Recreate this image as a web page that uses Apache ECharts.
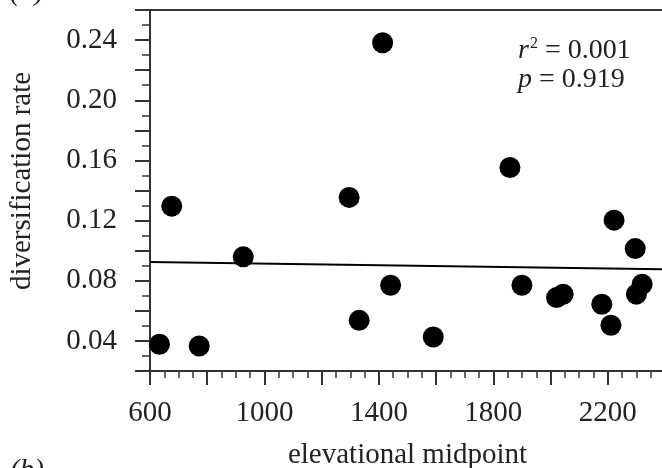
<!DOCTYPE html>
<html>
<head>
<meta charset="utf-8">
<script src="https://cdn.jsdelivr.net/npm/echarts@6/dist/echarts.min.js"></script>
<style>
  html, body { margin: 0; padding: 0; background: #fff; }
  #chart { width: 662px; height: 468px; }
</style>
</head>
<body>
<div id="chart"></div>
<script>
// elevational midpoint (x) vs diversification rate (y)
var elevMid = [633, 676, 772, 926, 1296, 1331, 1413, 1441, 1590, 1858, 1900, 2021, 2044, 2179, 2211, 2222, 2296, 2300, 2320];
var divRate = [0.0378, 0.1296, 0.0366, 0.0959, 0.1354, 0.0537, 0.2382, 0.0770, 0.0426, 0.1553, 0.0770, 0.0688, 0.0710, 0.0644, 0.0504, 0.1203, 0.1014, 0.0711, 0.0777];

// regression line end points
var fitX = [600, 2400];
var fitY = [0.0925, 0.0877];

var FONT = 'Liberation Serif';
var INK = '#222';

var myChart = echarts.init(document.getElementById('chart'));

var points = elevMid.map(function (x, i) { return [x, divRate[i]]; });
var fitLine = fitX.map(function (x, i) { return [x, fitY[i]]; });

var option = {
    animation: false,
    backgroundColor: '#fff',
    grid: {
        left: 150, top: 10, width: 515, height: 361,
        outerBoundsMode: 'none', containLabel: false,
        show: true, borderColor: '#333', borderWidth: 2, backgroundColor: 'transparent'
    },
    xAxis: {
        type: 'value',
        min: 600, max: 2400, interval: 200,
        axisLine: { lineStyle: { color: '#333', width: 2 } },
        axisTick: { length: 14, lineStyle: { color: '#333', width: 2 } },
        minorTick: { show: true, splitNumber: 4, length: 7, lineStyle: { color: '#333', width: 1.5 } },
        splitLine: { show: false },
        axisLabel: {
            margin: 28, color: INK, fontFamily: FONT, fontSize: 29,
            formatter: function (v) { return (v - 600) % 400 === 0 ? String(v) : ''; }
        },
        name: 'elevational midpoint',
        nameLocation: 'middle',
        nameGap: 70,
        nameTextStyle: { color: INK, fontFamily: FONT, fontSize: 29 }
    },
    yAxis: {
        type: 'value',
        min: 0.02, max: 0.26, interval: 0.02,
        axisLine: { lineStyle: { color: '#333', width: 2 } },
        axisTick: { length: 15, lineStyle: { color: '#333', width: 2 } },
        minorTick: { show: true, splitNumber: 2, length: 8, lineStyle: { color: '#333', width: 1.5 } },
        splitLine: { show: false },
        axisLabel: {
            margin: 33, color: INK, fontFamily: FONT, fontSize: 29,
            formatter: function (v) {
                var k = Math.round(v * 100);
                return k % 4 === 0 ? v.toFixed(2) : '';
            }
        }
    },
    graphic: [
        {
            type: 'text', rotation: Math.PI / 2, x: 8, y: 181,
            style: {
                text: 'diversification rate', fill: INK,
                font: '29px "Liberation Serif"', align: 'center', verticalAlign: 'top'
            }
        },
        {
            type: 'text', x: 518, y: 36,
            style: {
                text: '{i|r}{s|2} = 0.001\n{i|p} = 0.919',
                fill: INK, font: '28px "Liberation Serif"', lineHeight: 29,
                rich: {
                    i: { fontStyle: 'italic', fontFamily: FONT, fontSize: 28, fill: INK },
                    s: { fontFamily: FONT, fontSize: 16, padding: [0, 0, 14, 1], fill: INK }
                }
            }
        },
        {
            type: 'text', x: 10, y: -22,
            style: { text: '(a)', fill: INK, font: 'italic 29px "Liberation Serif"' }
        },
        {
            type: 'text', x: 10, y: 457,
            style: { text: '(b)', fill: INK, font: 'italic 29px "Liberation Serif"' }
        }
    ],
    series: [
        {
            type: 'line',
            data: fitLine,
            symbol: 'none',
            lineStyle: { color: '#000', width: 2 },
            z: 2
        },
        {
            type: 'scatter',
            data: points,
            symbol: 'circle',
            symbolSize: 21,
            itemStyle: { color: '#000', opacity: 1 },
            z: 3
        }
    ]
};

myChart.setOption(option);
</script>
</body>
</html>
